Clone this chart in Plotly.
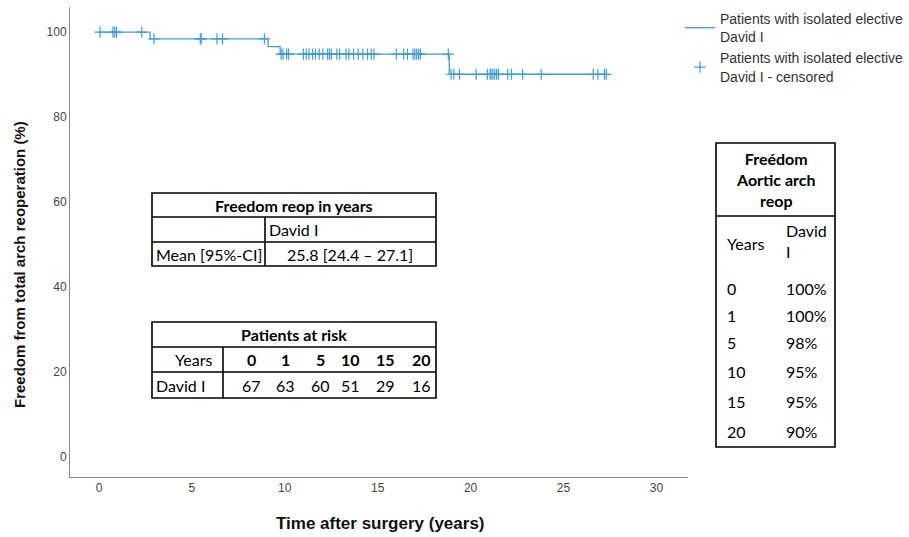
import plotly.graph_objects as go

# ---------------- data ----------------
n_patients = 67
event_times = [2.75, 9.1, 9.75, 18.85]
censor_times = [0.05, 0.75, 0.85, 0.95, 2.3,
                2.96, 5.45, 5.5, 6.35, 6.65, 8.9,
                9.8, 9.9,
                10.1, 10.2, 11.0, 11.15, 11.3, 11.5, 11.65, 11.85, 12.05, 12.3, 12.4,
                12.5, 12.8, 12.95, 13.3, 13.45, 13.7, 13.95, 14.2, 14.45, 14.65, 14.8,
                16.0, 16.4, 16.6, 16.9, 17.0, 17.1, 17.2, 17.3, 18.8,
                18.95, 19.1, 19.4,
                20.3, 20.9, 21.05, 21.1, 21.2, 21.3, 21.4, 21.5, 22.0, 22.2, 22.8, 23.8,
                26.6, 26.85, 27.2, 27.3]

x_ticks = [0, 5, 10, 15, 20, 25, 30]
y_ticks = [0, 20, 40, 60, 80, 100]

mean_label = "Mean [95%-CI]"
mean_value = "25.8 [24.4 – 27.1]"
risk_years = ["0", "1", "5", "10", "15", "20"]
risk_counts = ["67", "63", "60", "51", "29", "16"]
freedom_years = ["0", "1", "5", "10", "15", "20"]
freedom_pct = ["100%", "100%", "98%", "95%", "95%", "90%"]

# ---------------- Kaplan-Meier ----------------
all_times = event_times + censor_times
surv = 100.0
km_x, km_y = [0.0], [100.0]
steps = []
for t in sorted(event_times):
    at_risk = sum(1 for v in all_times if v >= t)
    surv = surv * (at_risk - 1) / at_risk
    km_x.append(t)
    km_y.append(surv)
    steps.append((t, surv))
last_t = max(all_times)
km_x.append(last_t)
km_y.append(surv)


def s_at(t):
    s = 100.0
    for et, sv in steps:
        if et <= t:
            s = sv
    return s


cens_y = [s_at(t) for t in censor_times]

COLOR = "#3f9dd9"

fig = go.Figure()
fig.add_trace(go.Scatter(x=km_x, y=km_y, mode="lines", line_shape="hv",
                         line=dict(color=COLOR, width=1.3),
                         name="Patients with isolated elective<br>David I"))
fig.add_trace(go.Scatter(x=censor_times, y=cens_y, mode="markers",
                         marker=dict(symbol="cross-thin", size=8,
                                     line=dict(color=COLOR, width=1.2)),
                         name="Patients with isolated elective<br>David I - censored"))

# pixel -> paper helpers (plot area px 70..688 x, 7..477 y)
W, H = 909, 537
L, R, T, B = 70, 688, 7, 477


def X(px):
    return (px - L) / (R - L)


def Y(py):
    return (B - py) / (B - T)


shapes = []
annotations = []
TF = dict(family="Lato", size=16, color="black")


def rect(x0, y0, x1, y1):
    shapes.append(dict(type="rect", xref="paper", yref="paper",
                       x0=X(x0), x1=X(x1), y0=Y(y1), y1=Y(y0),
                       line=dict(color="black", width=1.6), fillcolor="white",
                       layer="above"))


def line(x0, y0, x1, y1):
    shapes.append(dict(type="line", xref="paper", yref="paper",
                       x0=X(x0), x1=X(x1), y0=Y(y0), y1=Y(y1),
                       line=dict(color="black", width=1.6), layer="above"))


def text(s, px, py, anchor="center", bold=False):
    annotations.append(dict(text=("<b>%s</b>" % s) if bold else s,
                            xref="paper", yref="paper", x=X(px), y=Y(py),
                            xanchor=anchor, yanchor="middle", showarrow=False,
                            align=anchor if anchor != "center" else "center",
                            font=TF))


# table 1
rect(152, 193, 436, 266)
line(152, 217, 436, 217)
line(152, 242, 436, 242)
line(265, 217, 265, 266)
text("Freedom reop in years", 294, 205, bold=True)
text("David I", 267, 230, "left")
text(mean_label, 154, 254, "left")
text(mean_value, 350, 254)

# table 2
rect(152, 322, 436, 398)
line(152, 347, 436, 347)
line(152, 372, 436, 372)
line(223, 347, 223, 398)
text("Patients at risk", 294, 334, bold=True)
text("Years", 193, 359)
text("David I", 154, 385, "left")
col_x = [251, 285, 320, 350, 385, 421]
for cx, yr, n in zip(col_x, risk_years, risk_counts):
    text(yr, cx, 359, bold=True)
    text(n, cx, 385)

# table 3
rect(716, 143, 835, 447)
line(716, 216, 835, 216)
text("Freédom<br>Aortic arch<br>reop", 776, 179, bold=True)
text("Years", 725, 243, "left")
text("David<br>I", 784, 241, "left")
row_y = [288, 315, 342, 371, 401, 431]
for ry, yr, p in zip(row_y, freedom_years, freedom_pct):
    text(yr, 725, ry, "left")
    text(p, 784, ry, "left")

# axis titles
annotations.append(dict(text="<b>Time after surgery (years)</b>", xref="paper", yref="paper",
                        x=X(380), y=Y(523), xanchor="center", yanchor="middle",
                        showarrow=False,
                        font=dict(family="Liberation Sans", size=17, color="#111")))
annotations.append(dict(text="<b>Freedom from total arch reoperation (%)</b>",
                        xref="paper", yref="paper", x=X(19), y=Y(265), textangle=-90,
                        xanchor="center", yanchor="middle", showarrow=False,
                        font=dict(family="Liberation Sans", size=15, color="#111")))

fig.update_layout(
    width=W, height=H,
    margin=dict(l=L, r=W - R, t=T, b=H - B, autoexpand=False),
    paper_bgcolor="white", plot_bgcolor="white",
    showlegend=True,
    legend=dict(xref="container", yref="container",
                x=680 / W, y=1 - 3 / H, xanchor="left", yanchor="top",
                font=dict(family="Liberation Sans", size=14, color="#333"),
                bgcolor="rgba(0,0,0,0)", tracegroupgap=0),
    shapes=shapes, annotations=annotations,
    font=dict(family="Liberation Sans"),
)
fig.update_xaxes(range=[-1.56, 31.7], tickvals=x_ticks, showgrid=False, zeroline=False,
                 showline=True, linecolor="#8a8a8a", linewidth=1, ticks="",
                 tickfont=dict(family="Liberation Sans", size=12, color="#444"))
fig.update_yaxes(range=[-4.7, 105.9], tickvals=y_ticks, showgrid=False, zeroline=False,
                 showline=True, linecolor="#8a8a8a", linewidth=1, ticks="",
                 tickfont=dict(family="Liberation Sans", size=12, color="#444"))

fig.write_html("out.html", config={"displayModeBar": False},
               post_script="document.body.style.margin='0px';")
